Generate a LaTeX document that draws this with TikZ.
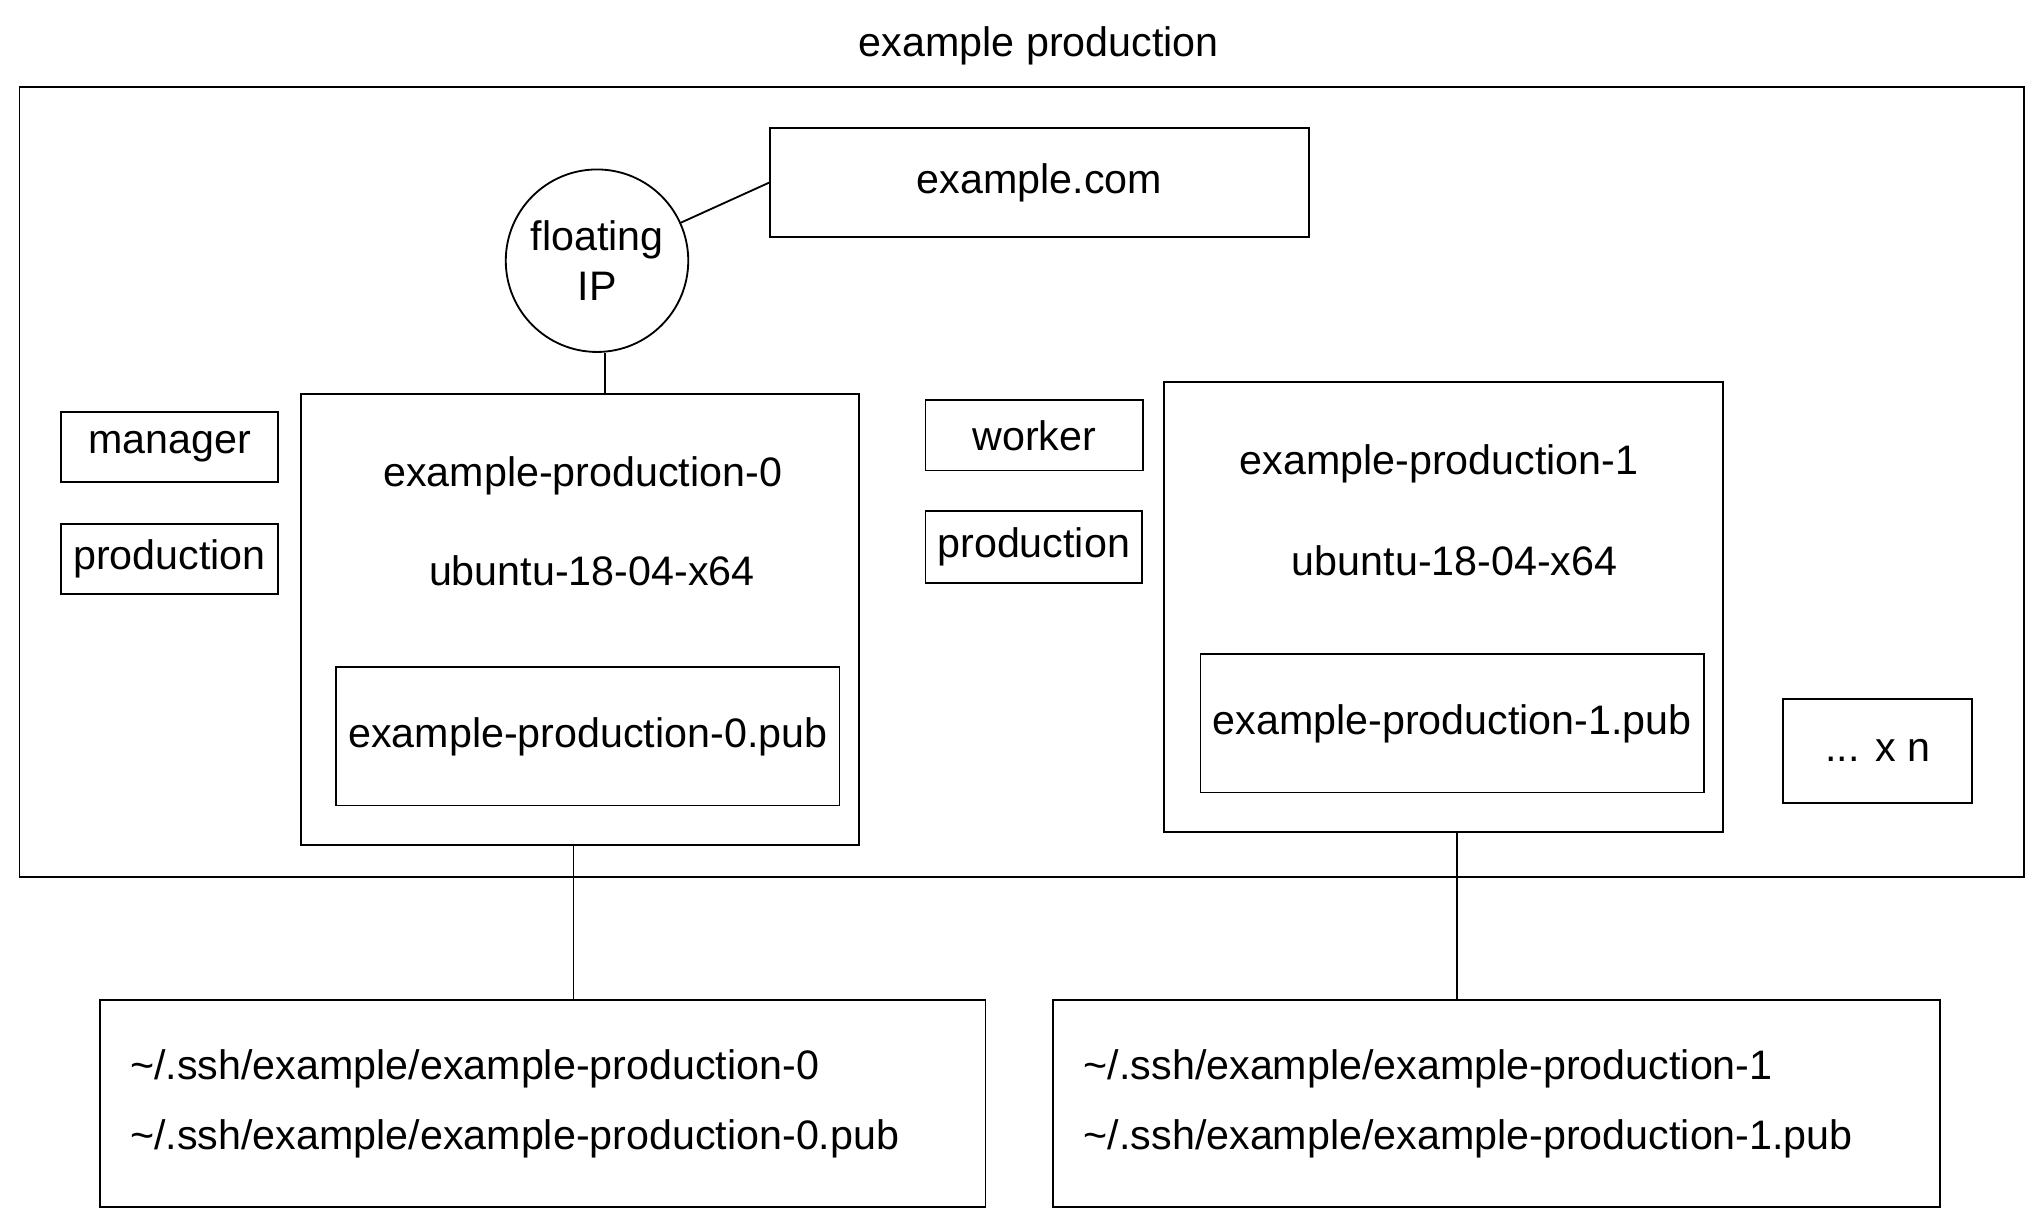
\documentclass[tikz,border=0pt]{standalone}
\usepackage{fontspec}
\setmainfont{Liberation Sans}
\usepackage{tikz}

\begin{document}
\begin{tikzpicture}[
    box/.style={draw, rectangle, thick, inner sep=0pt, align=center},
    label/.style={font=\fontsize{18}{22}\selectfont},
    keybox/.style={box, minimum height=3.18cm, text width=12.66cm, align=left, font=\fontsize{18}{30.6}\selectfont},
    link/.style={-, thick}
]
    \useasboundingbox (0,0) rectangle (31.3,-18.8);
    \tikzset{every node/.append style={font=\fontsize{18}{22}\selectfont}}

    % Title and outer frame
    \node[label] (title) at (15.94, -0.70) {example production};
    \node[box, minimum width=30.76cm, minimum height=12.12cm] (frame) at (15.68, -7.40) {};

    % Domain and floating IP
    \node[box, minimum width=8.26cm, minimum height=1.68cm] (dns) at (15.95, -2.80) {example.com};
    \node[draw, circle, thick, minimum size=2.8cm, inner sep=0pt, align=center] (ip) at (9.16, -4.00) {floating\\IP};

    % Tags
    \node[box, minimum width=3.32cm, minimum height=1.08cm] (manager) at (2.60, -6.86) {manager};
    \node[box, minimum width=3.32cm, minimum height=1.08cm] (prodA) at (2.60, -8.58) {production};
    \node[box, minimum width=3.34cm, minimum height=1.08cm] (worker) at (15.87, -6.68) {worker};
    \node[box, minimum width=3.32cm, minimum height=1.10cm] (prodB) at (15.86, -8.39) {production};

    % Droplet 0
    \node[box, minimum width=8.56cm, minimum height=6.92cm] (ep0) at (8.90, -9.50) {};
    \node[label] (ep0name) at (8.94, -7.30) {example-production-0};
    \node[label] (ep0os) at (9.08, -8.76) {ubuntu-18-04-x64};
    \node[box, minimum width=7.72cm, minimum height=2.12cm] (ep0pub) at (9.02, -11.30) {example-production-0.pub};

    % Droplet 1
    \node[box, minimum width=8.58cm, minimum height=6.90cm] (ep1) at (22.15, -9.31) {};
    \node[label] (ep1name) at (22.08, -7.12) {example-production-1};
    \node[label] (ep1os) at (22.32, -8.60) {ubuntu-18-04-x64};
    \node[box, minimum width=7.72cm, minimum height=2.12cm] (ep1pub) at (22.28, -11.10) {example-production-1.pub};

    % More droplets
    \node[box, minimum width=2.90cm, minimum height=1.60cm] (more) at (28.81, -11.52) {... x n};

    % Local keys
    \node[keybox, minimum width=13.58cm] (keys0) at (8.33, -16.93)
        {\textasciitilde/.ssh/example/example-production-0\\\textasciitilde/.ssh/example/example-production-0.pub};
    \node[keybox, minimum width=13.60cm] (keys1) at (22.96, -16.93)
        {\textasciitilde/.ssh/example/example-production-1\\\textasciitilde/.ssh/example/example-production-1.pub};

    % Links
    \draw[link] (ip) -- (dns.west);
    \draw[link] ([xshift=0.12cm]ip.south) -- ([xshift=0.12cm]ip.south |- ep0.north);
    \draw[link] ([xshift=-0.1cm]ep0.south) -- ([xshift=-0.1cm]ep0.south |- keys0.north);
    \draw[link] ([xshift=0.2cm]ep1.south) -- ([xshift=0.2cm]ep1.south |- keys1.north);

\end{tikzpicture}
\end{document}
